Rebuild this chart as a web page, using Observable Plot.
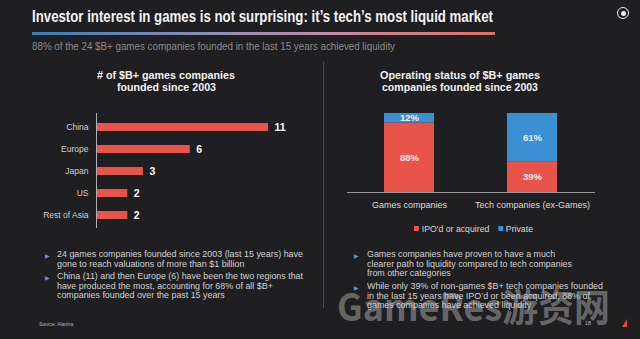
<!DOCTYPE html>
<html>
<head>
<meta charset="utf-8">
<script src="https://cdn.jsdelivr.net/npm/d3@7"></script>
<script src="https://cdn.jsdelivr.net/npm/@observablehq/plot@0.6"></script>
<style>
  html, body { margin: 0; padding: 0; }
  body { width: 640px; height: 339px; background: #1f1e20; overflow: hidden; position: relative;
         font-family: "Liberation Sans", Arial, sans-serif; color: #fff; }
  .abs { position: absolute; white-space: nowrap; }
  .fit { transform-origin: left top; display: inline-block; }
  #title { left: 32px; top: 7px; font-size: 16.5px; font-weight: bold; color: #f4f4f4; }
  #rule { left: 32px; top: 32px; width: 463px; height: 2.5px;
          background: linear-gradient(to right, #3a7cb4, #8e8fba 40%, #c98aa6 65%, #e36e5e); }
  #subtitle { left: 32px; top: 41px; font-size: 10px; color: #8a8a8a; }
  .ctitle { font-size: 11px; font-weight: bold; color: #f2f2f2; text-align: center; line-height: 12px; }
  .bul { font-size: 9px; line-height: 9.7px; color: #d2d2d2; }
  .mk { position: absolute; font-size: 6px; color: #6c94bf; }
  #divider { left: 323px; top: 62px; width: 1px; height: 246px; background: #4a494c; }
  #legend { top: 224px; font-size: 9px; color: #d8d8d8; }
  .sw { display: inline-block; width: 5px; height: 5px; margin-right: 3px; vertical-align: 1px; }
  #watermark { left: 337px; top: 283px; font-family: "Noto Sans CJK SC", "Liberation Sans", sans-serif;
               font-weight: bold; font-size: 38px; color: rgba(205,205,205,0.42); line-height: 44px; }
</style>
</head>
<body>
<script>
// ---- data ----
const regions = ["China", "Europe", "Japan", "US", "Rest of Asia"];
const counts = [11, 6, 3, 2, 2];
const groups = ["Games companies", "Tech companies (ex-Games)"];
const statuses = ["IPO'd or acquired", "Private"];
const ipoShare = [88, 39];
const privateShare = [12, 61];

const titleText = "Investor interest in games is not surprising: it\u2019s tech\u2019s most liquid market";
const subtitleText = "88% of the 24 $B+ games companies founded in the last 15 years achieved liquidity";
const leftTitle = ["# of $B+ games companies", "founded since 2003"];
const rightTitle = ["Operating status of $B+ games", "companies founded since 2003"];
const leftBullets = [
  ["24 games companies founded since 2003 (last 15 years) have", "gone to reach valuations of more than $1 billion"],
  ["China (11) and then Europe (6) have been the two regions that", "have produced the most, accounting for 68% of all $B+", "companies founded over the past 15 years"]
];
const rightBullets = [
  ["Games companies have proven to have a much", "clearer path to liquidity compared to tech companies", "from other categories"],
  ["While only 39% of non-games $B+ tech companies founded", "in the last 15 years have IPO\u2019d or been acquired, 88% of", "games companies have achieved liquidity"]
];
const sourceText = "Source: Alantra";
const pageText = "18";
const watermarkText = "GameRes\u6e38\u8d44\u7f51";

const RED = "#e9544a";
const BLUE = "#3b8fd3";
const FONT = "'Liberation Sans', Arial, sans-serif";

// ---- helpers ----
function addText(id, cls, text, left, top) {
  const d = document.createElement("div");
  if (id) d.id = id;
  d.className = "abs " + (cls || "");
  if (left != null) d.style.left = left + "px";
  if (top != null) d.style.top = top + "px";
  d.innerHTML = text;
  document.body.appendChild(d);
  return d;
}
function fitWidth(el, target) {
  el.classList.add("fit");
  const w = el.getBoundingClientRect().width;
  el.style.transform = `scaleX(${target / w})`;
}
function esc(s) { return s.replace(/&/g, "&amp;").replace(/</g, "&lt;"); }

// ---- header ----
const t = addText("title", "", esc(titleText));
fitWidth(t, 461);
addText("rule", "", "");
const st = addText("subtitle", "", esc(subtitleText));
fitWidth(st, 363);

// icon top-right
const icon = addText(null, "", "", 617, 7);
icon.style.width = "10px"; icon.style.height = "10px";
icon.style.border = "1.6px solid #f0f0f0"; icon.style.borderRadius = "50%";
const dot = document.createElement("div");
dot.style.cssText = "position:absolute;left:2.5px;top:2.5px;width:5px;height:5px;border-radius:50%;background:#f0f0f0;";
icon.appendChild(dot);

addText("divider", "", "");

// ---- chart titles ----
function centeredTitle(lines, cx, top, widths) {
  lines.forEach((ln, i) => {
    const el = addText(null, "ctitle", esc(ln), 0, top + i * 12);
    el.style.display = "inline-block";
    const w = el.getBoundingClientRect().width;
    const s = widths[i] / w;
    el.style.left = (cx - widths[i] / 2) + "px";
    el.style.transformOrigin = "left top";
    el.style.transform = `scaleX(${s})`;
  });
}
centeredTitle(leftTitle, 166, 69, [138, 99]);
centeredTitle(rightTitle, 460, 69, [160, 156]);

// ---- left chart: horizontal bars ----
const regionData = regions.map((r, i) => ({region: r, count: counts[i]}));
const left = Plot.plot({
  width: 320, height: 125,
  marginLeft: 96, marginRight: 52, marginTop: 8, marginBottom: 2,
  style: {background: "transparent", color: "#cfcfcf", fontFamily: FONT, fontSize: "8.5px"},
  x: {domain: [0, 11], axis: null},
  y: {domain: regions, paddingInner: 0.65, paddingOuter: 0.33, label: null, tickSize: 0, tickPadding: 8},
  marks: [
    Plot.barX(regionData, {x: "count", y: "region", fill: RED}),
    Plot.ruleX([0], {stroke: "#b0b0b0", strokeWidth: 1}),
    Plot.text(regionData, {x: "count", y: "region", text: d => String(d.count), dx: 6,
      textAnchor: "start", fill: "#ffffff", fontWeight: "bold", fontSize: 10.5})
  ]
});
left.style.position = "absolute"; left.style.left = "0px"; left.style.top = "105px";
document.body.appendChild(left);

// ---- right chart: stacked columns ----
const statusData = groups.flatMap((g, i) => [
  {group: g, status: statuses[0], pct: ipoShare[i]},
  {group: g, status: statuses[1], pct: privateShare[i]}
]);
const right = Plot.plot({
  width: 320, height: 110,
  marginLeft: 27, marginRight: 45, marginTop: 8, marginBottom: 23,
  style: {background: "transparent", color: "#dcdcdc", fontFamily: FONT, fontSize: "9px"},
  x: {domain: groups, paddingInner: 0.59, paddingOuter: 0.3, label: null, tickSize: 0, tickPadding: 9},
  y: {domain: [0, 100], axis: null},
  color: {domain: statuses, range: [RED, BLUE]},
  marks: [
    Plot.barY(statusData, {x: "group", y: "pct", fill: "status"}),
    Plot.ruleY([0], {stroke: "#9a9a9a", strokeWidth: 1}),
    Plot.text(statusData, Plot.stackY({x: "group", y: "pct", text: d => d.pct + "%",
      fill: "#f6eeee", fontWeight: "bold", fontSize: 9.5}))
  ]
});
right.style.position = "absolute"; right.style.left = "320px"; right.style.top = "105px";
document.body.appendChild(right);

// legend
const lg = addText("legend", "", statuses.map((s, i) =>
  `<span class="sw" style="background:${[RED, BLUE][i]}"></span>${esc(s)}`).join('<span style="display:inline-block;width:9px"></span>'));
lg.style.display = "inline-block";
const lgw = lg.getBoundingClientRect().width;
lg.style.left = (414 - 0) + "px";
fitWidth(lg, 119);

// ---- bullets ----
function bullets(list, markX, textX, tops, widths) {
  list.forEach((lines, i) => {
    addText(null, "mk", "\u25B6", markX, tops[i] + 1.5);
    const el = addText(null, "bul", lines.map(esc).join("<br>"), textX, tops[i]);
    fitWidth(el, widths[i]);
  });
}
bullets(leftBullets, 45, 57, [250, 272], [246, 246]);
bullets(rightBullets, 354, 367, [250, 282], [205, 236]);

// ---- footer ----
const src = addText(null, "", esc(sourceText), 39, 321);
src.style.fontSize = "5px"; src.style.color = "#b8b8b8";
const pg = addText(null, "", esc(pageText), 585, 320);
pg.style.fontSize = "5.5px"; pg.style.color = "#b8b8b8";
const logo = addText(null, "", "", 622, 319);
logo.style.width = "0"; logo.style.height = "0";
logo.style.borderLeft = "5px solid transparent";
logo.style.borderBottom = "8px solid #e0473e";

// watermark
const wm = addText("watermark", "", esc(watermarkText));
fitWidth(wm, 273);
</script>
</body>
</html>
